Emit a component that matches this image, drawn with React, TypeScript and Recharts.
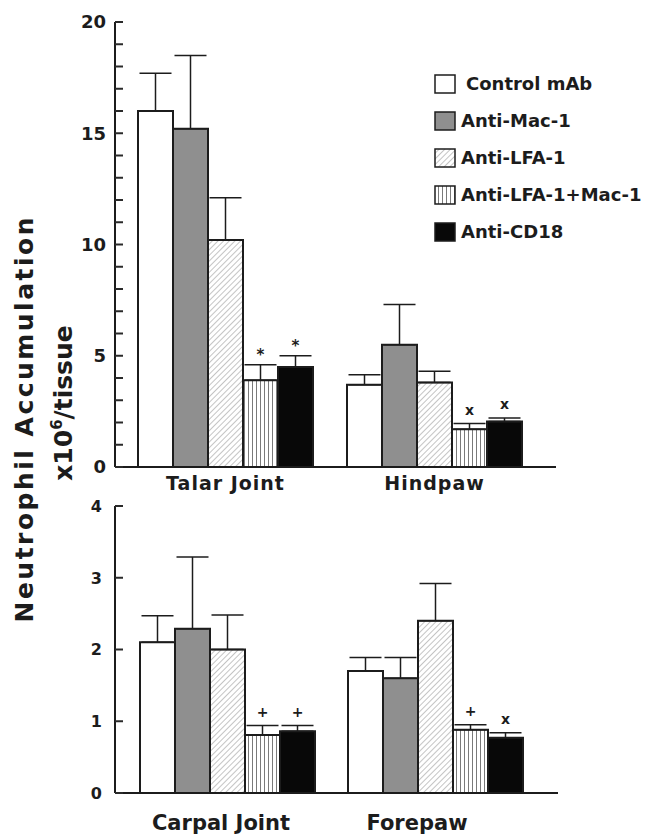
import { BarChart, Bar, XAxis, YAxis, ErrorBar, LabelList } from 'recharts';

const seriesNames = ['Control mAb', 'Anti-Mac-1', 'Anti-LFA-1', 'Anti-LFA-1+Mac-1', 'Anti-CD18'];

const topCategories = ['Talar Joint', 'Hindpaw'];
const talarMean = [16.0, 15.2, 10.2, 3.9, 4.5];
const talarErr = [1.7, 3.3, 1.9, 0.7, 0.5];
const talarMark = ['', '', '', '*', '*'];
const hindpawMean = [3.7, 5.5, 3.8, 1.7, 2.05];
const hindpawErr = [0.45, 1.8, 0.5, 0.25, 0.15];
const hindpawMark = ['', '', '', 'x', 'x'];

const bottomCategories = ['Carpal Joint', 'Forepaw'];
const carpalMean = [2.1, 2.29, 2.0, 0.81, 0.86];
const carpalErr = [0.37, 1.0, 0.48, 0.13, 0.08];
const carpalMark = ['', '', '', '+', '+'];
const forepawMean = [1.7, 1.6, 2.4, 0.88, 0.77];
const forepawErr = [0.19, 0.29, 0.52, 0.07, 0.07];
const forepawMark = ['', '', '', '+', 'x'];

const topTicks = [0, 1, 2, 3, 4, 5, 6, 7, 8, 9, 10, 11, 12, 13, 14, 15, 16, 17, 18, 19, 20];
const bottomTicks = [0, 1, 2, 3, 4];

const FONT = '"DejaVu Sans", "Liberation Sans", Arial, sans-serif';
const INK = '#1c1c1c';
const fills = ['#ffffff', '#8f8f8f', 'url(#hatchDiag)', 'url(#hatchVert)', '#080808'];

type Row = Record<string, string | number>;

function buildRows(cats: string[], means: number[][], errs: number[][], marks: string[][]): Row[] {
  return cats.map((cat, c) => {
    const row: Row = { cat };
    seriesNames.forEach((_, i) => {
      row[`v${i}`] = means[c][i];
      row[`e${i}`] = errs[c][i];
      row[`m${i}`] = marks[c][i];
    });
    return row;
  });
}

const topRows = buildRows(topCategories, [talarMean, hindpawMean], [talarErr, hindpawErr], [talarMark, hindpawMark]);
const bottomRows = buildRows(bottomCategories, [carpalMean, forepawMean], [carpalErr, forepawErr], [carpalMark, forepawMark]);

// marker sits above the error bar; error height in px is derived from the bar's own px/unit
const markerLabel = (rows: Row[], i: number) => (props: any) => {
  const vb = props.viewBox && props.viewBox.width !== undefined ? props.viewBox : props;
  const value = props.value;
  if (!value) return null;
  const row = rows[props.index];
  const v = Number(row[`v${i}`]);
  const e = Number(row[`e${i}`]);
  const h = Math.abs(vb.height);
  const top = Math.min(vb.y, vb.y + vb.height);
  const errPx = (e * h) / v;
  const lift = value === '*' ? 5 : 9;
  return (
    <text x={vb.x + vb.width / 2} y={top - errPx - lift} textAnchor="middle"
      fontFamily={FONT} fontWeight="bold" fontSize={value === '*' ? 15 : 14} fill={INK}>
      {value}
    </text>
  );
};

// ticks point into the plot, labels only on the major values
const yTick = (fontSize: number, every: number, margin: number) => (props: any) => {
  const { x, y, payload } = props;
  const axisX = x + margin;
  return (
    <g>
      <line x1={axisX} x2={axisX + 8} y1={y} y2={y} stroke="#2a2a2a" strokeWidth={2} />
      {payload.value % every === 0 && (
        <text x={x} y={y} dy="0.36em" textAnchor="end" fontFamily={FONT} fontWeight="bold"
          fontSize={fontSize} fill={INK}>
          {payload.value}
        </text>
      )}
    </g>
  );
};

const xTick = (dy: number, fontSize: number, spacing: number, shifts: number[]) => (props: any) => {
  const { x, y, payload, index } = props;
  return (
    <text x={x + (shifts[index] || 0)} y={y} dy={dy} textAnchor="middle" fontFamily={FONT}
      fontWeight="bold" fontSize={fontSize} letterSpacing={spacing} fill={INK}>
      {payload.value}
    </text>
  );
};

function Panel({ rows, top, height, margin, domain, ticks, every, tickFont, tickMargin, padding, labelDy, labelFont, labelSpacing, labelShift }: any) {
  return (
    <div style={{ position: 'absolute', left: 0, top }}>
      <BarChart width={649} height={height} data={rows} margin={margin} barSize={35} barGap={0}>
        <XAxis dataKey="cat" height={40} padding={padding} tickLine={false} tickSize={0} tickMargin={0}
          axisLine={{ stroke: INK, strokeWidth: 2 }}
          tick={xTick(labelDy, labelFont, labelSpacing, labelShift)} interval={0} />
        <YAxis type="number" domain={domain} ticks={ticks} interval={0} width={40}
          tickSize={0} tickMargin={tickMargin} tickLine={false}
          axisLine={{ stroke: INK, strokeWidth: 2 }}
          tick={yTick(tickFont, every, tickMargin)} />
        {seriesNames.map((name, i) => (
          <Bar key={name} name={name} dataKey={`v${i}`} fill={fills[i]} stroke={INK} strokeWidth={2}
            isAnimationActive={false}>
            <ErrorBar dataKey={(d: any) => [0, d[`e${i}`]]} width={16} stroke={INK} strokeWidth={1.5} direction="y" />
            <LabelList dataKey={`m${i}`} content={markerLabel(rows, i)} />
          </Bar>
        ))}
      </BarChart>
    </div>
  );
}

function Legend() {
  return (
    <div style={{ position: 'absolute', left: 434, top: 74 }}>
      {seriesNames.map((name, i) => (
        <div key={name} style={{ position: 'absolute', left: 0, top: i * 37, display: 'flex', alignItems: 'center', whiteSpace: 'nowrap' }}>
          <svg width={22} height={20} style={{ display: 'block' }}>
            <rect x={1} y={1} width={20} height={18} fill={fills[i]} stroke={INK} strokeWidth={1.5} />
          </svg>
          <span style={{ marginLeft: i === 0 ? 10 : 5, fontFamily: FONT, fontWeight: 'bold', fontSize: 18, color: INK, lineHeight: '20px' }}>
            {name}
          </span>
        </div>
      ))}
    </div>
  );
}

export default function App() {
  return (
    <div style={{ position: 'absolute', left: 0, top: 0, width: 649, height: 836, background: '#fff', overflow: 'hidden' }}>
      <svg width={0} height={0} style={{ position: 'absolute' }}>
        <defs>
          <pattern id="hatchDiag" patternUnits="userSpaceOnUse" width={4} height={4} patternTransform="rotate(45)">
            <rect width={4} height={4} fill="#fff" />
            <line x1={0} y1={0} x2={0} y2={4} stroke="#8a8a8a" strokeWidth={1} />
          </pattern>
          <pattern id="hatchVert" patternUnits="userSpaceOnUse" width={4} height={4}>
            <rect width={4} height={4} fill="#fff" />
            <line x1={0.5} y1={0} x2={0.5} y2={4} stroke="#7a7a7a" strokeWidth={1} />
          </pattern>
        </defs>
      </svg>

      <Panel rows={topRows} top={0} height={510} margin={{ top: 22, right: 93, bottom: 3, left: 75 }}
        domain={[0, 20]} ticks={topTicks} every={5} tickFont={18} tickMargin={9}
        padding={{ left: 6, right: 17 }} labelDy={23} labelFont={19} labelSpacing={1} labelShift={[0, 0]} />

      <Panel rows={bottomRows} top={480} height={356} margin={{ top: 26, right: 91, bottom: 3, left: 75 }}
        domain={[0, 4]} ticks={bottomTicks} every={1} tickFont={16} tickMargin={13}
        padding={{ left: 8, right: 19 }} labelDy={37} labelFont={21} labelSpacing={0} labelShift={[-6, -18]} />

      <Legend />

      <svg width={649} height={836} style={{ position: 'absolute', left: 0, top: 0, pointerEvents: 'none' }}>
        <text transform="translate(33,420) rotate(-90)" textAnchor="middle" fontFamily={FONT}
          fontWeight="bold" fontSize={25} fill={INK} textLength={405} lengthAdjust="spacing">
          Neutrophil Accumulation
        </text>
        <text transform="translate(72,403) rotate(-90)" textAnchor="middle" fontFamily={FONT}
          fontWeight="bold" fontSize={25} fill={INK}>
          x10<tspan dy={-10} fontSize={15}>6</tspan><tspan dy={10}>/tissue</tspan>
        </text>
      </svg>
    </div>
  );
}
